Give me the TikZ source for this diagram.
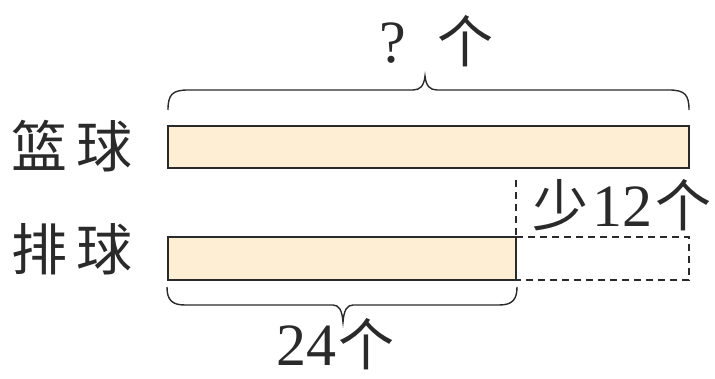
\documentclass[tikz,border=0pt]{standalone}
\usepackage{fontspec}
\setmainfont{Liberation Serif}
\newfontfamily\cjk{Noto Sans CJK SC}
\newcommand\bigdig[1]{{\fontsize{60}{60}\selectfont #1}}
\definecolor{barfill}{HTML}{FEEED4}
\definecolor{ink}{HTML}{2A2A2A}
\tikzset{
  bar/.style={draw=ink, line width=1.6pt, fill=barfill},
  dashbox/.style={draw=ink, line width=1.3pt, dash pattern=on 7pt off 5pt},
  bracep/.style={draw=ink, line width=1.4pt},
  lbl/.style={anchor=base west, inner sep=0pt, outer sep=0pt, text=ink, font=\fontsize{56}{60}\selectfont}
}
\begin{document}
\begin{tikzpicture}[x=1pt, y=-1pt]
\useasboundingbox (0,0) rectangle (715,379);
% bars
\coordinate (tA) at (168,126); \coordinate (tB) at (689,168);
\coordinate (bA) at (168,237); \coordinate (bB) at (516,280);
\coordinate (dB) at (689,280);
\coordinate (dTop) at (516,180);
\draw[bar] (tA) rectangle (tB);
\draw[bar] (bA) rectangle (bB);
\draw[dashbox] (516,237) -- (689,237) -- (dB) -- (516,280);
\draw[dashbox] (dTop) -- (516,237);
% top brace
\draw[bracep] (168,110) .. controls (168,95) and (172,90) .. (188,90) -- (413,90)
  .. controls (420,90) and (424,86) .. (425,76)
  .. controls (426,86) and (430,90) .. (437,90) -- (669,90)
  .. controls (685,90) and (689,95) .. (689,110);
% bottom brace
\draw[bracep] (167,287) .. controls (167,300) and (172,305) .. (185,305) -- (333,305)
  .. controls (339,305) and (342,310) .. (343,322)
  .. controls (344,310) and (347,305) .. (353,305) -- (499,305)
  .. controls (512,305) and (517,300) .. (517,287);
% labels
\node[lbl] (lanqiu) at (12,168) {\cjk 篮\hspace{9pt}球};
\node[lbl] (paiqiu) at (12,271) {\cjk 排\hspace{9pt}球};
\node[lbl] (total) at (379,63) {\bigdig{?}\hspace{32pt}{\cjk 个}};
\node[lbl] (diff) at (532,227) {{\cjk 少}\hspace{4pt}\bigdig{12}\hspace{3pt}{\cjk 个}};
\node[lbl] (count) at (276,366) {\bigdig{24}\hspace{2pt}{\cjk 个}};
\end{tikzpicture}
\end{document}
